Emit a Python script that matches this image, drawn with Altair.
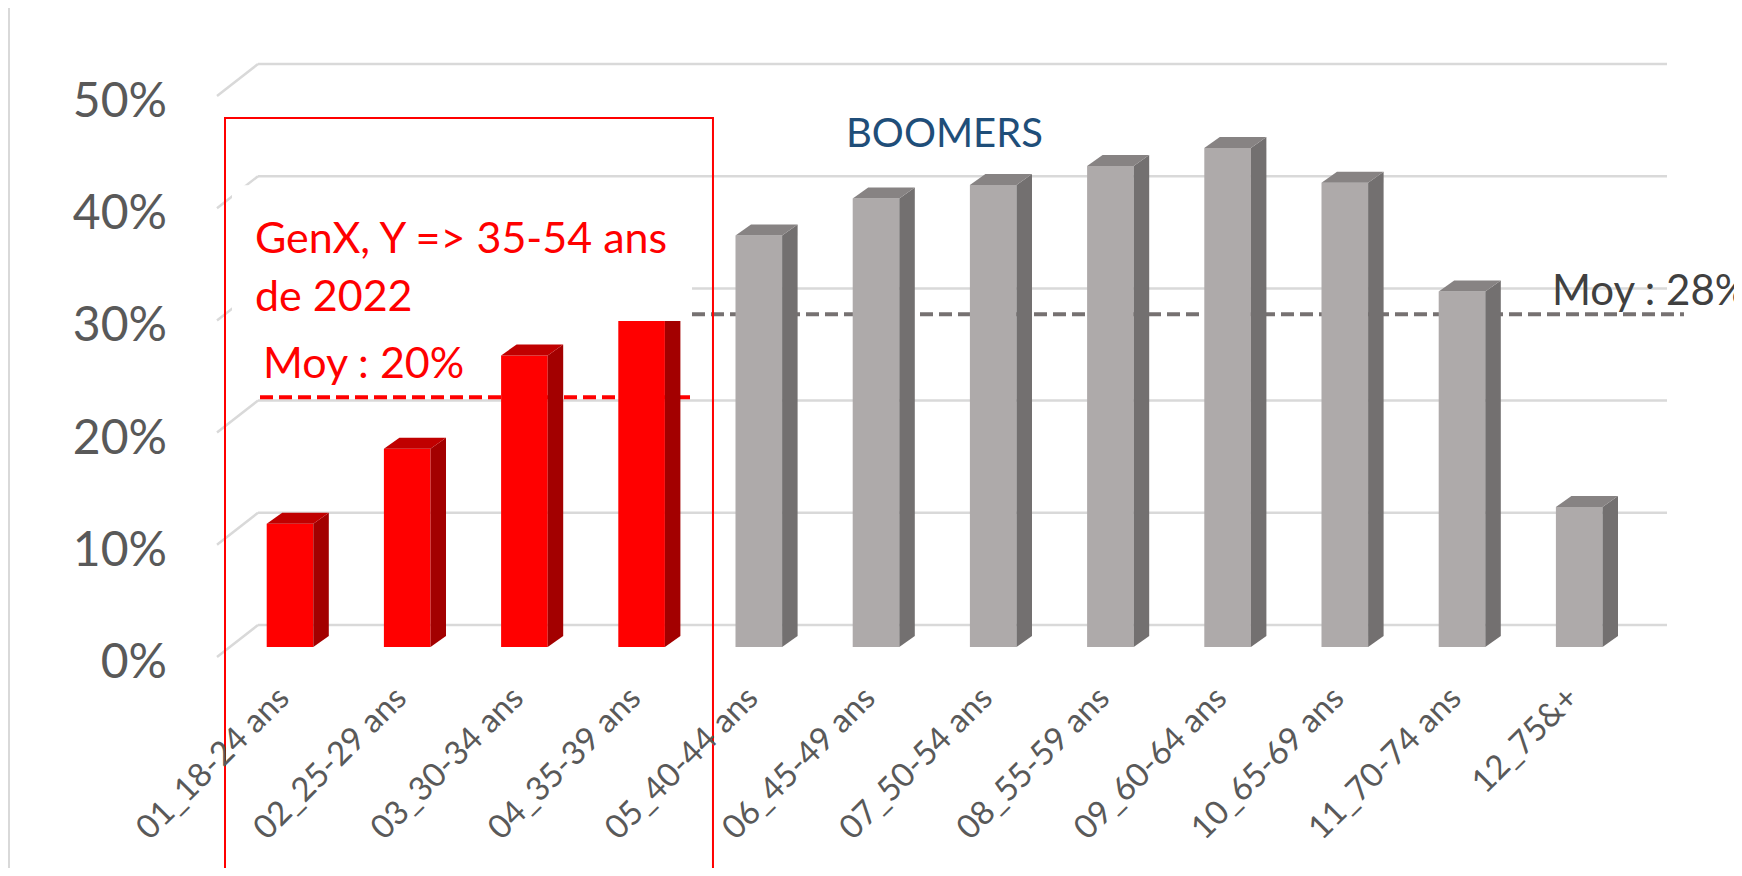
import altair as alt
import pandas as pd

# ---------------- data ----------------
categories = ["01_18-24 ans", "02_25-29 ans", "03_30-34 ans", "04_35-39 ans",
              "05_40-44 ans", "06_45-49 ans", "07_50-54 ans", "08_55-59 ans",
              "09_60-64 ans", "10_65-69 ans", "11_70-74 ans", "12_75&+"]
values = [10.0, 16.7, 25.0, 28.5, 35.7, 39.0, 40.2, 41.9, 43.5, 40.4, 30.7, 11.5]
groups = ["GenX"] * 4 + ["Boomers"] * 8
y_ticks = [0, 10, 20, 30, 40, 50]
y_tick_labels = ["0%", "10%", "20%", "30%", "40%", "50%"]
moy_genx = 20.3
moy_boomers = 27.7
genx_lines = ["GenX, Y => 35-54 ans", "de 2022"]
genx_moy_label = "Moy : 20%"
boomers_label = "BOOMERS"
boomers_moy_label = "Moy : 28%"

# ---------------- layout (pixels -> data units) ----------------
W, H = 1726, 860
PX_X = 117.2      # px per category step
ORIGIN_X = 282.0  # plot px of first category centre
PX_Y = 11.22      # px per percentage point
ORIGIN_Y = 617.0  # plot px of 0 % on the back wall

def ux(px):
    return px / PX_X

def uy(px):
    return px / PX_Y

x_dom = [-ORIGIN_X / PX_X, (W - ORIGIN_X) / PX_X]
y_dom = [-(H - ORIGIN_Y) / PX_Y, ORIGIN_Y / PX_Y]
XS = alt.Scale(domain=x_dom, nice=False, zero=False)
YS = alt.Scale(domain=y_dom, nice=False, zero=False)

HW = ux(23.3)      # half front width
DX = ux(15.5)      # depth x
DY = uy(11)        # depth y
FB = -uy(22)       # front bottom

RED_F, RED_S, RED_T = "#FF0000", "#A30000", "#C00000"
GRY_F, GRY_S, GRY_T = "#AEAAAA", "#737070", "#878383"

front_rows, side_rows, top_rows = [], [], []
for i, (c, v, g) in enumerate(zip(categories, values, groups)):
    front_rows.append(dict(bar=i, grp=g, x=i - HW, x2=i + HW, y=v - DY, y2=FB))
    side_rows += [dict(bar=i, grp=g, x=i + HW, top=v - DY, bot=FB),
                  dict(bar=i, grp=g, x=i + HW + DX, top=v, bot=FB + DY)]
    top_rows += [dict(bar=i, grp=g, x=i - HW, top=v - DY, bot=v - DY),
                 dict(bar=i, grp=g, x=i - HW + DX, top=v, bot=v - DY),
                 dict(bar=i, grp=g, x=i + HW, top=v, bot=v - DY),
                 dict(bar=i, grp=g, x=i + HW + DX, top=v, bot=v)]
front_df = pd.DataFrame(front_rows)
side_df = pd.DataFrame(side_rows)
top_df = pd.DataFrame(top_rows)

def gcol(red, gray):
    return alt.condition(alt.datum.grp == "GenX", alt.value(red), alt.value(gray))

GRID = "#D9D9D9"
grid_df = pd.DataFrame(dict(y=y_ticks, x=ux(258 - 290), x2=ux(1667 - 290)))
diag_df = pd.DataFrame(dict(xf=ux(217 - 290), yf=[t - uy(32) for t in y_ticks],
                            xb=ux(258 - 290), yb=y_ticks))

grid = alt.Chart(grid_df).mark_rule(color=GRID, strokeWidth=2.5).encode(
    x=alt.X("x:Q", scale=XS, axis=None), x2="x2:Q",
    y=alt.Y("y:Q", scale=YS, axis=None))
diag = alt.Chart(diag_df).mark_rule(color=GRID, strokeWidth=2.5).encode(
    x=alt.X("xf:Q", scale=XS, axis=None), y=alt.Y("yf:Q", scale=YS, axis=None),
    x2="xb:Q", y2="yb:Q")

front = alt.Chart(front_df).mark_rect().encode(
    x=alt.X("x:Q", scale=XS, axis=None), x2="x2:Q",
    y=alt.Y("y:Q", scale=YS, axis=None), y2="y2:Q",
    color=gcol(RED_F, GRY_F))


def face_layer(df, red, gray, g):
    sub = df[df["grp"] == g]
    col = red if g == "GenX" else gray
    return alt.Chart(sub).mark_area(interpolate="linear", color=col, opacity=1).encode(
        x=alt.X("x:Q", scale=XS, axis=None),
        y=alt.Y("top:Q", scale=YS, axis=None, stack=None), y2="bot:Q",
        detail="bar:N")

side_layers = [face_layer(side_df, RED_S, GRY_S, g) for g in ["GenX", "Boomers"]]
top_layers = [face_layer(top_df, RED_T, GRY_T, g) for g in ["GenX", "Boomers"]]

# white text-box background (covers back grid and top of 4th bar)
box_df = pd.DataFrame(dict(x=[-0.495], x2=[3.43], y=[27.1], y2=[39.2]))
box = alt.Chart(box_df).mark_rect(color="white").encode(
    x=alt.X("x:Q", scale=XS, axis=None), x2="x2:Q",
    y=alt.Y("y:Q", scale=YS, axis=None), y2="y2:Q")

# red frame
frame_df = pd.DataFrame(dict(x=[-0.5546], x2=[3.609], y=[-30.0], y2=[45.19]))
frame = alt.Chart(frame_df).mark_rect(fillOpacity=0, stroke="#FF0000", strokeWidth=2).encode(
    x=alt.X("x:Q", scale=XS, axis=None), x2="x2:Q",
    y=alt.Y("y:Q", scale=YS, axis=None), y2="y2:Q")

# average dashed lines
avg_df = pd.DataFrame(dict(x=[-0.256, 3.43], x2=[3.413, 11.894],
                           y=[moy_genx, moy_boomers], grp=["GenX", "Boomers"]))
avg = alt.Chart(avg_df).mark_rule(strokeWidth=4, strokeDash=[13, 6]).encode(
    x=alt.X("x:Q", scale=XS, axis=None), x2="x2:Q",
    y=alt.Y("y:Q", scale=YS, axis=None),
    color=gcol("#FF0000", "#767171"))

# left page border
border = alt.Chart(pd.DataFrame(dict(a=[0]))).mark_rule(color="#D9D9D9", strokeWidth=2).encode(
    x=alt.value(1), y=alt.value(0), y2=alt.value(H))

# y tick labels
ytl_df = pd.DataFrame(dict(x=ux(167 - 290), y=[t - uy(39) for t in y_ticks], t=y_tick_labels))
ytl = alt.Chart(ytl_df).mark_text(align="right", font="Lato", fontSize=48, color="#595959").encode(
    x=alt.X("x:Q", scale=XS, axis=None), y=alt.Y("y:Q", scale=YS, axis=None), text="t:N")

# x category labels
xl_df = pd.DataFrame(dict(x=[i - ux(6) for i in range(len(categories))], y=-uy(68), t=categories))
xl = alt.Chart(xl_df).mark_text(align="right", angle=315, font="Lato", fontSize=33, color="#595959").encode(
    x=alt.X("x:Q", scale=XS, axis=None), y=alt.Y("y:Q", scale=YS, axis=None), text="t:N")

# annotation texts
ann_red_df = pd.DataFrame(dict(x=[-0.299, -0.299, -0.230], y=[34.31, 29.14, 23.17],
                               t=genx_lines + [genx_moy_label]))
ann_red = alt.Chart(ann_red_df).mark_text(align="left", font="Lato", fontSize=43, color="#FF0000").encode(
    x=alt.X("x:Q", scale=XS, axis=None), y=alt.Y("y:Q", scale=YS, axis=None), text="t:N")
ann_b_df = pd.DataFrame(dict(x=[4.744], y=[43.67], t=[boomers_label]))
ann_b = alt.Chart(ann_b_df).mark_text(align="left", font="Lato", fontSize=40, color="#1F4E79").encode(
    x=alt.X("x:Q", scale=XS, axis=None), y=alt.Y("y:Q", scale=YS, axis=None), text="t:N")
ann_m_df = pd.DataFrame(dict(x=[10.768], y=[29.68], t=[boomers_moy_label]))
ann_m = alt.Chart(ann_m_df).mark_text(align="left", font="Lato", fontSize=42, color="#404040").encode(
    x=alt.X("x:Q", scale=XS, axis=None), y=alt.Y("y:Q", scale=YS, axis=None), text="t:N")

chart = alt.layer(
    border, grid, diag, avg, front, *side_layers, *top_layers, box, frame,
    ytl, xl, ann_red, ann_b, ann_m
).properties(
    width=W, height=H, padding=0,
    autosize=alt.AutoSizeParams(type="none"),
).configure_view(strokeWidth=0)

chart.save("out.html", embed_options={"renderer": "svg", "actions": False})
